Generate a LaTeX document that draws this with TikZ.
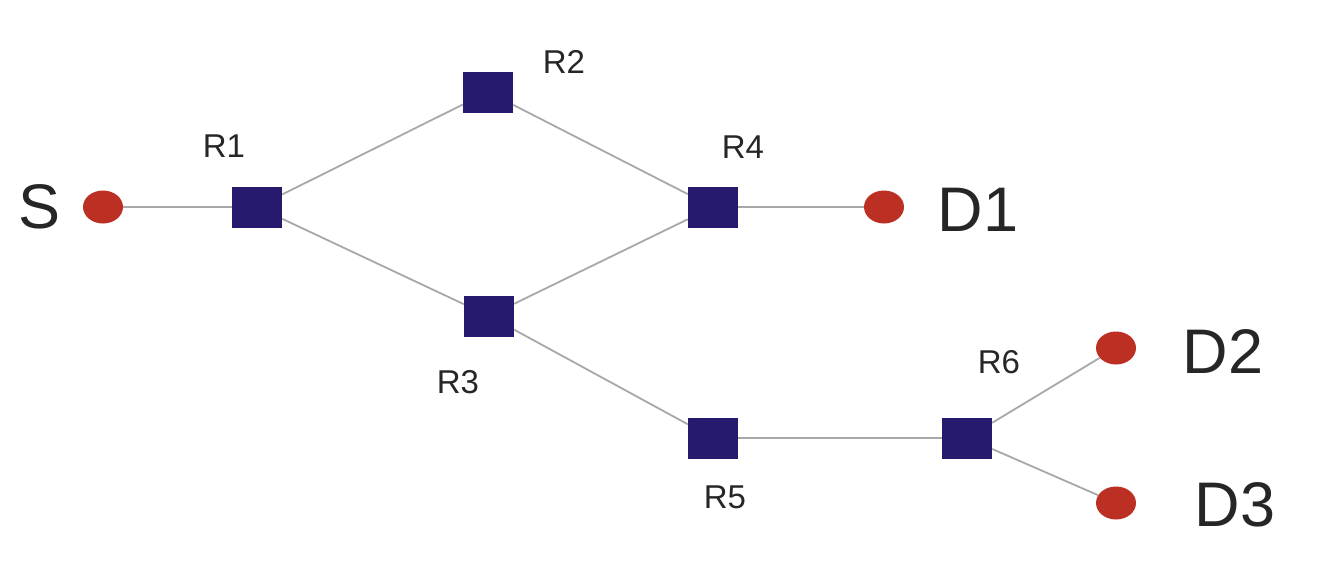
\documentclass[tikz,border=0pt]{standalone}
\usepackage{fontspec}
\setmainfont{Liberation Sans}
\usetikzlibrary{shapes.geometric}
\definecolor{navy}{HTML}{251A6E}
\definecolor{dotred}{HTML}{BC3024}
\definecolor{linkgray}{HTML}{A8A8A8}
\begin{document}
\begin{tikzpicture}[x=1pt,y=-1pt,
  router/.style={rectangle,fill=navy,minimum width=50pt,minimum height=41pt,inner sep=0pt},
  host/.style={ellipse,fill=dotred,minimum width=40pt,minimum height=33pt,inner sep=0pt},
  link/.style={draw=linkgray,line width=1.8pt},
  rlabel/.style={font=\fontsize{33}{33}\selectfont,text=black!85,inner sep=0pt},
  hlabel/.style={font=\fontsize{63}{63}\selectfont,text=black!85,inner sep=0pt}]
\useasboundingbox[fill=white] (0,0) rectangle (1335,570);
\node[host] (S) at (103,207) {};
\node[router] (R1) at (257,207) {};
\node[router] (R2) at (488,92) {};
\node[router] (R3) at (489,316) {};
\node[router] (R4) at (713,207) {};
\node[host] (D1) at (884,207) {};
\node[router] (R5) at (713,438) {};
\node[router] (R6) at (967,438) {};
\node[host] (D2) at (1116,348) {};
\node[host] (D3) at (1116,503) {};
\node[hlabel] (Slab) at (40,207) {S};
\node[hlabel] (D1lab) at (978,210) {D1};
\node[hlabel] (D2lab) at (1223,352) {D2};
\node[hlabel] (D3lab) at (1235,505) {D3};
\node[rlabel] (R1lab) at (224,146) {R1};
\node[rlabel] (R2lab) at (564,62) {R2};
\node[rlabel] (R3lab) at (458,382) {R3};
\node[rlabel] (R4lab) at (743,147) {R4};
\node[rlabel] (R5lab) at (725,497) {R5};
\node[rlabel] (R6lab) at (999,362) {R6};
\draw[link] (S) -- (R1);
\draw[link] (R1) -- (R2);
\draw[link] (R1) -- (R3);
\draw[link] (R2) -- (R4);
\draw[link] (R3) -- (R4);
\draw[link] (R4) -- (D1);
\draw[link] (R3) -- (R5);
\draw[link] (R5) -- (R6);
\draw[link] (R6) -- (D2);
\draw[link] (R6) -- (D3);
\end{tikzpicture}
\end{document}
